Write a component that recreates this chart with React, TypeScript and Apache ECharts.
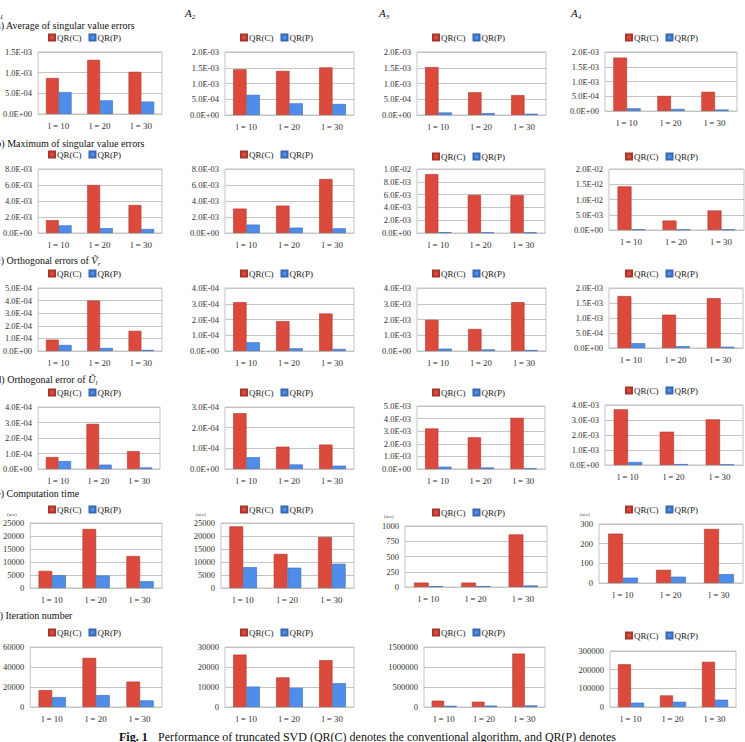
import React, { useEffect, useRef } from "react";
import * as echarts from "echarts";

// Category labels shared by every panel
const categories = ["l = 10", "l = 20", "l = 30"];
const seriesNames = ["QR(C)", "QR(P)"];

// Each array holds one row per matrix A1..A4, values for l = 10, 20, 30
const avgErrC = [[0.87e-3, 1.31e-3, 1.02e-3], [1.45e-3, 1.40e-3, 1.51e-3], [1.52e-3, 0.72e-3, 0.63e-3], [1.81e-3, 0.51e-3, 0.65e-3]];
const avgErrP = [[0.53e-3, 0.33e-3, 0.30e-3], [0.64e-3, 0.37e-3, 0.35e-3], [0.08e-3, 0.06e-3, 0.04e-3], [0.09e-3, 0.07e-3, 0.05e-3]];

const maxErrC = [[1.6e-3, 6.0e-3, 3.5e-3], [3.05e-3, 3.42e-3, 6.75e-3], [9.2e-3, 5.95e-3, 5.9e-3], [14.3e-3, 3.1e-3, 6.4e-3]];
const maxErrP = [[0.95e-3, 0.6e-3, 0.5e-3], [1.05e-3, 0.67e-3, 0.58e-3], [0.12e-3, 0.1e-3, 0.08e-3], [0.2e-3, 0.15e-3, 0.15e-3]];

const orthVC = [[0.9e-4, 4.0e-4, 1.6e-4], [3.1e-4, 1.9e-4, 2.38e-4], [1.98e-3, 1.4e-3, 3.1e-3], [1.73e-3, 1.11e-3, 1.66e-3]];
const orthVP = [[0.48e-4, 0.24e-4, 0.08e-4], [0.55e-4, 0.17e-4, 0.13e-4], [0.15e-3, 0.1e-3, 0.06e-3], [0.16e-3, 0.06e-3, 0.04e-3]];

const orthUC = [[0.77e-4, 2.91e-4, 1.15e-4], [2.7e-4, 1.08e-4, 1.18e-4], [3.22e-3, 2.51e-3, 4.06e-3], [3.71e-3, 2.22e-3, 3.04e-3]];
const orthUP = [[0.51e-4, 0.28e-4, 0.1e-4], [0.57e-4, 0.22e-4, 0.16e-4], [0.18e-3, 0.12e-3, 0.05e-3], [0.2e-3, 0.06e-3, 0.04e-3]];

const timeC = [[6600, 22700, 12300], [23700, 13100, 19600], [72, 72, 862], [251, 67, 275]];
const timeP = [[4900, 4800, 2600], [8000, 7800, 9300], [12, 14, 25], [27, 32, 45]];

const iterC = [[16800, 49100, 25400], [26200, 14800, 23400], [157000, 132000, 1335000], [229000, 62000, 242000]];
const iterP = [[9900, 11900, 6600], [10200, 9600, 11900], [30000, 35000, 40000], [23000, 28000, 39000]];

// Axis ranges per panel
const yMax = [
  [1.5e-3, 2e-3, 2e-3, 2e-3],
  [8e-3, 8e-3, 1e-2, 2e-2],
  [5e-4, 4e-4, 4e-3, 2e-3],
  [4e-4, 3e-4, 5e-3, 4e-3],
  [25000, 25000, 1000, 300],
  [60000, 30000, 1500000, 300000],
];
const yStep = [
  [5e-4, 5e-4, 5e-4, 5e-4],
  [2e-3, 2e-3, 2e-3, 5e-3],
  [1e-4, 1e-4, 1e-3, 5e-4],
  [1e-4, 1e-4, 1e-3, 1e-3],
  [5000, 5000, 250, 100],
  [20000, 10000, 500000, 100000],
];

const rowsC = [avgErrC, maxErrC, orthVC, orthUC, timeC, iterC];
const rowsP = [avgErrP, maxErrP, orthVP, orthUP, timeP, iterP];
const expRows = [true, true, true, true, false, false];

// Plot rectangles [left, top, right, bottom]
const gridRects = [
  [[32, 52, 162, 114], [225, 52, 354, 115], [417, 52, 546, 115], [605, 52, 737, 111]],
  [[32, 169, 162, 233], [225, 169, 354, 233], [417, 169, 545, 233], [609, 169, 744, 230]],
  [[32, 288, 162, 351], [225, 288, 354, 351], [417, 288, 546, 351], [609, 288, 743, 348]],
  [[32, 407, 160, 469], [225, 407, 354, 469], [417, 406, 545, 469], [605, 405, 743, 465]],
  [[24, 523, 162, 588], [221, 523, 354, 588], [405, 526, 547, 587], [599, 524, 743, 583]],
  [[29, 647, 162, 707], [225, 647, 354, 707], [424, 647, 545, 707], [610, 651, 736, 707]],
];
const legendPos = [
  [[48, 38], [240, 38], [432, 38], [625, 38]],
  [[48, 155], [240, 155], [432, 157], [625, 157]],
  [[48, 274], [240, 274], [432, 274], [625, 274]],
  [[48, 393], [240, 393], [432, 393], [625, 391]],
  [[48, 510], [240, 510], [432, 513], [625, 510]],
  [[48, 633], [240, 633], [432, 633], [625, 636]],
];

const SERIF = "'Liberation Serif', 'Times New Roman', serif";
const RED = "#DC4A3D";
const RED_EDGE = "#A8362B";
const BLUE = "#4F8DEA";
const BLUE_EDGE = "#3767B3";
const GRID_LINE = "#C4C4C4";

const fmtExp = (v: number) => {
  if (Math.abs(v) < 1e-12) return "0.0E+00";
  const [m, e] = v.toExponential(1).split("e");
  const n = parseInt(e, 10);
  return `${m}E${n < 0 ? "-" : "+"}${String(Math.abs(n)).padStart(2, "0")}`;
};

// Rich-text styles for italic symbols with a lowered subscript
const mathRich = (size: number) => ({
  m: { fontFamily: SERIF, fontStyle: "italic", fontSize: size, lineHeight: 14, fill: "#111" },
  s: { fontFamily: SERIF, fontStyle: "italic", fontSize: 7, lineHeight: 7, verticalAlign: "bottom", fill: "#111" },
});

function buildOption() {
  const grid: any[] = [];
  const xAxis: any[] = [];
  const yAxis: any[] = [];
  const series: any[] = [];
  const legend: any[] = [];
  let k = 0;
  for (let r = 0; r < 6; r++) {
    for (let c = 0; c < 4; c++) {
      const [l, t, rr, b] = gridRects[r][c];
      grid.push({
        left: l, top: t, width: rr - l, height: b - t,
        show: true, borderColor: GRID_LINE, borderWidth: 1, containLabel: false,
      });
      xAxis.push({
        type: "category", gridIndex: k, data: categories,
        axisLine: { lineStyle: { color: GRID_LINE } },
        axisTick: { show: false },
        axisLabel: { fontFamily: SERIF, fontSize: 9, color: "#333", margin: 7 },
      });
      const exp = expRows[r];
      yAxis.push({
        type: "value", gridIndex: k, min: 0, max: yMax[r][c], interval: yStep[r][c],
        axisLine: { show: false }, axisTick: { show: false },
        splitLine: { lineStyle: { color: GRID_LINE, width: 1 } },
        axisLabel: {
          fontFamily: SERIF, fontSize: 8.5, color: "#333", margin: 6,
          formatter: exp ? (v: number) => fmtExp(v) : (v: number) => String(Math.round(v)),
        },
      });
      series.push({
        type: "bar", name: seriesNames[0], xAxisIndex: k, yAxisIndex: k,
        data: rowsC[r][c], barGap: "0%", barCategoryGap: "38%",
        itemStyle: { color: RED, borderColor: RED_EDGE, borderWidth: 0.6 },
      });
      series.push({
        type: "bar", name: seriesNames[1], xAxisIndex: k, yAxisIndex: k,
        data: rowsP[r][c], barGap: "0%", barCategoryGap: "38%",
        itemStyle: { color: BLUE, borderColor: BLUE_EDGE, borderWidth: 0.6 },
      });
      const [lx, ly] = legendPos[r][c];
      legend.push({
        data: seriesNames, left: lx, top: ly - 5, padding: 0,
        icon: "rect", itemWidth: 6, itemHeight: 6, itemGap: 7,
        selectedMode: false,
        textStyle: { fontFamily: SERIF, fontSize: 9, color: "#222", padding: [0, 0, 0, -3] },
      });
      k++;
    }
  }

  const txt = (x: number, y: number, text: string, extra: any = {}) => ({
    type: "text", x, y, silent: true,
    style: { text, fontFamily: SERIF, fontSize: 10, fill: "#111", verticalAlign: "middle", ...extra },
  });

  const graphic: any[] = [];
  // Matrix headers A1..A4
  const aPos = [[-7, 13], [185, 13], [379, 13], [571, 13]];
  aPos.forEach(([x, y], i) => {
    graphic.push(txt(x, y, `{m|A}{s|${i + 1}}`, { lineHeight: 14, rich: mathRich(11) }));
  });
  // Row headings
  graphic.push(txt(-7, 25, "(a) Average of singular value errors"));
  graphic.push(txt(-7, 143, "(b) Maximum of singular value errors"));
  graphic.push(txt(-7, 260, "(c) Orthogonal errors of {m|Ṽ}{s|r}", { lineHeight: 14, rich: mathRich(10.5) }));
  graphic.push(txt(-7, 379, "(d) Orthogonal error of {m|Ũ}{s|l}", { lineHeight: 14, rich: mathRich(10.5) }));
  graphic.push(txt(-7, 493, "(e) Computation time"));
  graphic.push(txt(-7, 615, "(f) Iteration number"));
  // Unit labels over the timing panels
  [[7, 514], [196, 514], [384, 516], [580, 514]].forEach(([x, y]) => {
    graphic.push(txt(x, y, "(sec)", { fontSize: 5, fill: "#333" }));
  });
  // Caption
  graphic.push(txt(119, 737, "Fig. 1", { fontWeight: "bold", fontSize: 12 }));
  graphic.push(txt(158, 737, "Performance of truncated SVD (QR(C) denotes the conventional algorithm, and QR(P) denotes", { fontSize: 12 }));

  return {
    animation: false,
    backgroundColor: "#ffffff",
    grid, xAxis, yAxis, series, legend, graphic,
  };
}

export default function App() {
  const ref = useRef<HTMLDivElement>(null);
  useEffect(() => {
    if (!ref.current) return;
    const chart = echarts.init(ref.current, undefined, { renderer: "svg" });
    chart.setOption(buildOption() as any);
    return () => chart.dispose();
  }, []);
  return (
    <div
      ref={ref}
      style={{ position: "fixed", left: 0, top: 0, width: 745, height: 742, background: "#fff" }}
    />
  );
}
